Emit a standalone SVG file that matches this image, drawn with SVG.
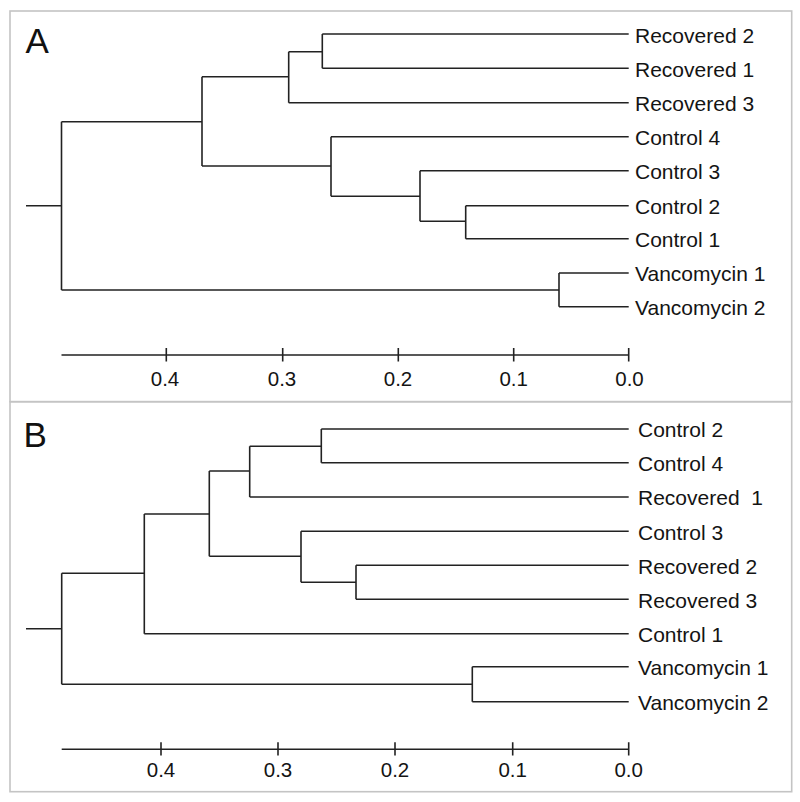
<svg xmlns="http://www.w3.org/2000/svg" width="800" height="802" viewBox="0 0 800 802">
<style>
.frame{fill:none;stroke:#c4c4c4;stroke-width:1.6}
.br{fill:none;stroke:#222;stroke-width:1.6}
.ax{fill:none;stroke:#222;stroke-width:1.6}
.lbl{font-family:"Liberation Sans",Arial,sans-serif;font-size:21px;fill:#141414}
.tk{font-family:"Liberation Sans",Arial,sans-serif;font-size:20.5px;fill:#141414;text-anchor:middle}
.pn{font-family:"Liberation Sans",Arial,sans-serif;font-size:35px;fill:#111}
</style>
<rect width="800" height="802" fill="#fff"/>
<g id="frames">
<rect class="frame" x="10" y="11" width="781.7" height="390.7"/>
<rect class="frame" x="10" y="401.7" width="781.7" height="390"/>
</g>
<g id="panel-labels">
<text class="pn" x="25.5" y="52.7">A</text>
<text class="pn" x="23.5" y="446.7">B</text>
</g>
<g id="connectors">
<path class="br" d="M26 205.8H61.5M61.5 121.7V290M61.5 121.7H202M202 76.7V166M202 76.7H288.7M288.7 51.7V102.7M288.7 51.7H322.3M322.3 34V68.3M322.3 34H628.7M322.3 68.3H628.7M288.7 102.7H628.7M202 166H331M331 136.7V196.3M331 136.7H628.7M331 196.3H420M420 170.7V221.3M420 170.7H628.7M420 221.3H465.7M465.7 205.7V238.7M465.7 205.7H628.7M465.7 238.7H628.7M61.5 290H559M559 273V306.7M559 273H628.7M559 306.7H628.7"/>
<path class="br" d="M26 628.7H61.7M61.7 573.3V684.3M61.7 573.3H144.3M144.3 514V633.7M144.3 633.7H628.7M144.3 514H209.3M209.3 471V556.3M209.3 471H249.7M249.7 446.3V497M249.7 446.3H321.3M321.3 429V462.7M321.3 429H628.7M321.3 462.7H628.7M249.7 497H628.7M209.3 556.3H301M301 531.3V582.3M301 531.3H628.7M301 582.3H356M356 565.3V599.3M356 565.3H628.7M356 599.3H628.7M61.7 684.3H472.3M472.3 666.7V701.7M472.3 666.7H628.7M472.3 701.7H628.7"/>
</g>
<g id="leaf-A-recovered2"><text class="lbl" x="635" y="42.5">Recovered 2</text></g>
<g id="leaf-A-recovered1"><text class="lbl" x="635" y="76.8">Recovered 1</text></g>
<g id="leaf-A-recovered3"><text class="lbl" x="635" y="111.2">Recovered 3</text></g>
<g id="leaf-A-control4"><text class="lbl" x="635" y="145">Control 4</text></g>
<g id="leaf-A-control3"><text class="lbl" x="635" y="179">Control 3</text></g>
<g id="leaf-A-control2"><text class="lbl" x="635" y="214">Control 2</text></g>
<g id="leaf-A-control1"><text class="lbl" x="635" y="247">Control 1</text></g>
<g id="leaf-A-vanco1"><text class="lbl" x="635" y="281.3">Vancomycin 1</text></g>
<g id="leaf-A-vanco2"><text class="lbl" x="635" y="315">Vancomycin 2</text></g>
<g id="leaf-B-control2"><text class="lbl" x="638" y="437.3">Control 2</text></g>
<g id="leaf-B-control4"><text class="lbl" x="638" y="471">Control 4</text></g>
<g id="leaf-B-recovered1"><text class="lbl" x="638" y="505.3" xml:space="preserve">Recovered  1</text></g>
<g id="leaf-B-control3"><text class="lbl" x="638" y="539.6">Control 3</text></g>
<g id="leaf-B-recovered2"><text class="lbl" x="638" y="573.6">Recovered 2</text></g>
<g id="leaf-B-recovered3"><text class="lbl" x="638" y="607.6">Recovered 3</text></g>
<g id="leaf-B-control1"><text class="lbl" x="638" y="642">Control 1</text></g>
<g id="leaf-B-vanco1"><text class="lbl" x="638" y="675">Vancomycin 1</text></g>
<g id="leaf-B-vanco2"><text class="lbl" x="638" y="710">Vancomycin 2</text></g>
<g id="axis-A">
<path class="ax" d="M61.5 355H628.7M166.3 348V361.5M282.7 348V361.5M398.3 348V361.5M513.7 348V361.5M628.7 348V361.5"/>
<text class="tk" x="165" y="386">0.4</text>
<text class="tk" x="282" y="386">0.3</text>
<text class="tk" x="398" y="386">0.2</text>
<text class="tk" x="513.7" y="386">0.1</text>
<text class="tk" x="629.5" y="386">0.0</text>
</g>
<g id="axis-B">
<path class="ax" d="M61.7 749.3H628.7M161 742.3V755.5M278 742.3V755.5M395 742.3V755.5M512.7 742.3V755.5M628.7 742.3V755.5"/>
<text class="tk" x="161" y="776.7">0.4</text>
<text class="tk" x="278" y="776.7">0.3</text>
<text class="tk" x="395" y="776.7">0.2</text>
<text class="tk" x="512.7" y="776.7">0.1</text>
<text class="tk" x="628.7" y="776.7">0.0</text>
</g>
</svg>
